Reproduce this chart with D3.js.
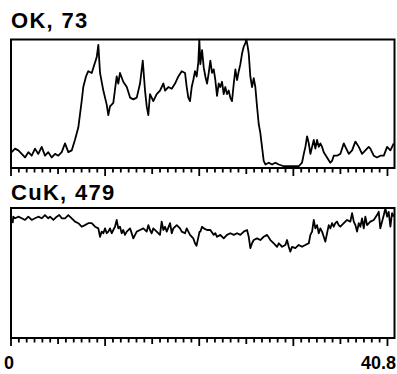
<!DOCTYPE html>
<html>
<head>
<meta charset="utf-8">
<script src="https://cdn.jsdelivr.net/npm/d3@7"></script>
<style>
  html, body { margin: 0; padding: 0; background: #fff; }
  svg { display: block; }
</style>
</head>
<body>
<svg id="chart" width="397" height="374"></svg>
<script>
// Line-scan profiles: element line, peak count, scan distance
const elements = ["OK", "CuK"];
const peakCounts = [73, 479];
const axisRange = [0, 40.8];
const axisLabels = ["0", "40.8"];
const majorStep = 10;
const minorPerMajor = 12;

// O K-alpha counts along the scan
const posOK = [0.07,0.43,0.78,1.14,1.49,1.84,2.20,2.55,2.90,3.26,3.61,3.96,4.33,4.68,5.03,5.39,5.74,6.09,6.45,6.80,
  7.15,7.51,7.68,7.97,8.21,8.58,8.75,9.11,9.28,9.38,9.46,9.81,10.17,10.34,10.52,10.87,11.23,11.40,11.58,11.93,
  12.30,12.65,13.00,13.36,13.71,14.00,14.24,14.42,14.59,14.77,15.12,15.48,15.83,16.19,16.37,16.72,17.08,17.43,17.78,18.14,
  18.49,18.67,18.84,19.02,19.20,19.37,19.55,19.73,19.90,20.01,20.12,20.30,20.48,20.65,20.83,21.01,21.18,21.36,21.54,21.71,
  21.89,22.07,22.24,22.42,22.60,22.77,22.95,23.13,23.30,23.48,23.67,23.84,24.02,24.20,24.37,24.55,24.73,24.90,25.01,25.15,
  25.26,25.43,25.61,25.79,25.96,26.14,26.32,26.49,26.67,26.85,27.03,27.39,27.74,28.09,28.45,28.98,30.04,30.57,30.92,31.11,
  31.28,31.46,31.64,31.81,31.99,32.17,32.34,32.52,32.70,32.87,33.05,33.23,33.58,33.93,34.11,34.29,34.64,34.99,35.36,35.53,
  35.89,36.24,36.59,36.95,37.30,37.65,38.01,38.18,38.54,38.89,39.24,39.61,39.96,40.31,40.67];
const cntOK = [9,11,10,8,6,9,7,11,8,12,7,9,6,8,7,9,14,9,10,16,
  23,38,46,52,55,54,57,63,70,61,54,44,36,30,35,37,52,48,54,49,
  46,40,39,40,48,61,44,35,30,42,38,42,44,48,44,46,45,48,52,55,
  54,46,40,38,46,50,55,52,60,73,59,67,57,52,48,54,61,54,56,50,
  41,48,46,49,42,46,42,44,40,38,48,56,50,55,59,65,69,71,73,69,
  65,52,46,51,46,35,25,20,12,4,2,3,2,3,2,1,1,1,3,8,
  12,18,14,8,12,16,11,16,12,14,12,9,6,3,4,7,7,8,14,12,
  8,10,15,12,8,10,12,11,7,6,7,7,12,10,14];

// Cu K-alpha counts along the scan
const posCuK = [0.18,0.24,0.43,0.78,1.14,1.49,1.84,2.20,2.55,2.90,3.26,3.61,3.96,4.14,4.50,4.86,5.13,5.39,5.74,6.09,
  6.45,6.80,7.15,7.51,7.86,8.21,8.58,8.93,9.28,9.46,9.64,9.81,9.99,10.17,10.34,10.52,10.70,10.87,11.05,11.23,
  11.40,11.58,11.76,11.93,12.11,12.30,12.65,13.00,13.18,13.36,13.71,14.06,14.42,14.59,14.77,14.95,15.12,15.48,15.83,16.01,
  16.19,16.37,16.55,16.90,17.08,17.25,17.61,17.96,18.14,18.49,18.67,19.02,19.37,19.55,19.71,20.03,20.12,20.30,20.48,20.83,
  21.18,21.54,21.71,21.89,22.24,22.60,22.95,23.30,23.67,24.02,24.37,24.73,25.08,25.26,25.43,25.61,25.79,26.14,26.49,26.85,
  27.21,27.56,27.92,28.27,28.45,28.62,28.80,29.15,29.33,29.51,29.68,29.86,30.21,30.57,30.92,31.28,31.64,31.81,31.99,32.17,
  32.34,32.52,32.70,32.87,33.05,33.23,33.40,33.58,33.76,33.93,34.11,34.29,34.46,34.64,34.82,34.99,35.36,35.71,36.06,36.24,
  36.42,36.59,36.77,36.95,37.12,37.30,37.48,37.65,37.83,38.18,38.54,38.89,39.07,39.24,39.43,39.61,39.78,39.96,40.13,40.31,
  40.49,40.67];
const cntCuK = [423,447,441,447,441,435,447,435,441,447,441,453,441,447,435,447,453,441,441,453,
  441,429,423,410,416,423,423,410,404,373,392,386,404,386,392,404,386,398,410,435,
  404,410,386,398,380,392,404,367,380,392,398,404,392,416,398,386,404,392,380,429,
  398,410,392,423,386,404,416,404,392,386,404,380,367,349,340,391,392,410,404,398,
  398,380,386,373,380,367,380,386,380,386,380,392,398,373,331,349,361,367,361,373,
  380,361,349,336,349,343,336,343,361,336,318,336,331,343,336,343,349,380,392,435,
  404,416,386,404,392,373,355,386,416,404,423,410,423,429,416,410,423,435,429,460,
  429,416,392,423,410,441,404,447,416,429,435,453,465,404,429,453,478,447,465,410,
  460,447];

const svg = d3.select("#chart");
const font = "'Liberation Sans', Arial, sans-serif";

const frameLeft = 11, frameRight = 394.5;
const x = d3.scaleLinear().domain(axisRange).range([frameLeft, 395]);

const panels = [
  { name: elements[0], peak: peakCounts[0], pos: posOK,  cnt: cntOK,  top: 39.5, bottom: 168, titleY: 28 },
  { name: elements[1], peak: peakCounts[1], pos: posCuK, cnt: cntCuK, top: 208,  bottom: 338, titleY: 200 }
];

// tick marks: long every major step, medium at half steps, short otherwise
const tickData = d3.range(0, Math.floor(axisRange[1] / majorStep * minorPerMajor) + 1)
  .map(i => ({ v: i * majorStep / minorPerMajor, i }))
  .filter(d => d.v <= axisRange[1] + 1e-9);
const tickLen = d => d.i % minorPerMajor === 0 ? 8 : (d.i % (minorPerMajor / 2) === 0 ? 6 : 4.5);

panels.forEach((p, k) => {
  const g = svg.append("g");
  const y = d3.scaleLinear().domain([0, p.peak]).range([p.bottom, p.top]);

  const clipId = "clip" + k;
  svg.append("clipPath").attr("id", clipId)
    .append("rect")
    .attr("x", frameLeft).attr("y", p.top - 1)
    .attr("width", frameRight - frameLeft).attr("height", p.bottom - p.top + 2);

  const pts = p.pos.map((v, i) => [v, p.cnt[i]]);
  g.append("path")
    .datum(pts)
    .attr("clip-path", `url(#${clipId})`)
    .attr("fill", "none")
    .attr("stroke", "#000")
    .attr("stroke-width", 1.8)
    .attr("stroke-linejoin", "round")
    .attr("d", d3.line().x(d => x(d[0])).y(d => y(d[1])));

  g.append("rect")
    .attr("x", frameLeft).attr("y", p.top)
    .attr("width", frameRight - frameLeft).attr("height", p.bottom - p.top)
    .attr("fill", "none").attr("stroke", "#000").attr("stroke-width", 2);

  g.selectAll("line.tick").data(tickData).join("line")
    .attr("class", "tick")
    .attr("x1", d => x(d.v)).attr("x2", d => x(d.v))
    .attr("y1", p.bottom).attr("y2", d => p.bottom + tickLen(d))
    .attr("stroke", "#000").attr("stroke-width", 1.8);

  g.append("text")
    .attr("x", frameLeft).attr("y", p.titleY)
    .attr("font-family", font).attr("font-weight", "bold")
    .attr("font-size", 22).attr("letter-spacing", 1.3)
    .text(`${p.name}, ${p.peak}`);
});

svg.append("text")
  .attr("x", 9).attr("y", 369).attr("text-anchor", "middle")
  .attr("font-family", font).attr("font-weight", "bold").attr("font-size", 18)
  .text(axisLabels[0]);
svg.append("text")
  .attr("x", 396).attr("y", 369).attr("text-anchor", "end")
  .attr("font-family", font).attr("font-weight", "bold").attr("font-size", 18)
  .text(axisLabels[1]);
</script>
</body>
</html>
